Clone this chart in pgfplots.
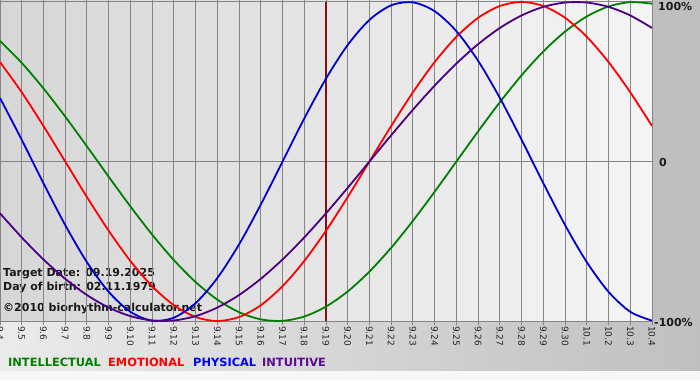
\documentclass[border=0pt]{standalone}
\usepackage{fontspec}
\setmainfont{DejaVu Sans}
\usepackage{pgfplots}
\usepackage{pgfplotstable}
\pgfplotsset{compat=1.18}
\definecolor{gridgray}{HTML}{858585}
\definecolor{targetred}{HTML}{801010}
\definecolor{cintel}{HTML}{008000}
\definecolor{cemo}{HTML}{FF0000}
\definecolor{cphys}{HTML}{0000CC}
\definecolor{cintu}{HTML}{4B0082}
\definecolor{lintel}{HTML}{008000}
\definecolor{lemo}{HTML}{FF0000}
\definecolor{lphys}{HTML}{0000FF}
\definecolor{lintu}{HTML}{5A0A96}

\pgfplotstableread{
d intel emo phys intu
0 0.7557 0.6235 0.3984 -0.3247
1 0.6182 0.4339 0.1362 -0.4759
2 0.4582 0.2225 -0.1362 -0.6142
3 0.2817 0 -0.3984 -0.7357
4 0.0951 -0.2225 -0.6311 -0.8372
5 -0.0951 -0.4339 -0.8170 -0.9158
6 -0.2817 -0.6235 -0.9423 -0.9694
7 -0.4582 -0.7818 -0.9977 -0.9966
8 -0.6182 -0.9010 -0.9791 -0.9966
9 -0.7557 -0.9749 -0.8879 -0.9694
10 -0.8660 -1 -0.7308 -0.9158
11 -0.9450 -0.9749 -0.5196 -0.8372
12 -0.9898 -0.9010 -0.2698 -0.7357
13 -0.9989 -0.7818 0 -0.6142
14 -0.9718 -0.6235 0.2698 -0.4759
15 -0.9096 -0.4339 0.5196 -0.3247
16 -0.8146 -0.2225 0.7308 -0.1646
17 -0.6901 0 0.8879 0
18 -0.5406 0.2225 0.9791 0.1646
19 -0.3717 0.4339 0.9977 0.3247
20 -0.1893 0.6235 0.9423 0.4759
21 0 0.7818 0.8170 0.6142
22 0.1893 0.9010 0.6311 0.7357
23 0.3717 0.9749 0.3984 0.8372
24 0.5406 1 0.1362 0.9158
25 0.6901 0.9749 -0.1362 0.9694
26 0.8146 0.9010 -0.3984 0.9966
27 0.9096 0.7818 -0.6311 0.9966
28 0.9718 0.6235 -0.8170 0.9694
29 0.9989 0.4339 -0.9423 0.9158
30 0.9898 0.2225 -0.9977 0.8372
}\bio

\begin{document}
\begin{tikzpicture}[x=1pt,y=1pt]
\useasboundingbox (0,0) rectangle (700,380);
% backgrounds
\fill[white!97!black] (0,0) rectangle (700,380);
\shade[left color=white!92!black, middle color=white!88!black, right color=white!75!black] (0,10) rectangle (700,59);
\fill[white!75!black] (652,59) rectangle (700,380);
\shade[left color=white!84!black, middle color=white!90!black, right color=white!96!black] (0,59) rectangle (652,380);
% texts
\node[anchor=base west, inner sep=0pt, font=\bfseries\fontsize{11}{13}\selectfont, text=black!90] at (3,104) {Target Date: 09.19.2025};
\node[anchor=base west, inner sep=0pt, font=\bfseries\fontsize{11}{13}\selectfont, text=black!90] at (3,90) {Day of birth: 02.11.1979};
\node[anchor=base west, inner sep=0pt, font=\bfseries\fontsize{11}{13}\selectfont, text=black!90] at (3,69) {\char"00A9 2010 biorhythm-calculator.net};
\node[anchor=base west, inner sep=0pt, font=\bfseries\fontsize{11.4}{13}\selectfont, text=lintel] at (8,14) {INTELLECTUAL};
\node[anchor=base west, inner sep=0pt, font=\bfseries\fontsize{11.4}{13}\selectfont, text=lemo] at (108,14) {EMOTIONAL};
\node[anchor=base west, inner sep=0pt, font=\bfseries\fontsize{11.4}{13}\selectfont, text=lphys] at (193,14) {PHYSICAL};
\node[anchor=base west, inner sep=0pt, font=\bfseries\fontsize{11.4}{13}\selectfont, text=lintu] at (262,14) {INTUITIVE};
\begin{axis}[
  at={(0pt,59pt)}, anchor=south west,
  scale only axis, width=652pt, height=319pt,
  xmin=0, xmax=30, ymin=-1, ymax=1,
  axis line style={draw=none},
  xtick={0,...,30},
  xticklabels={9.4,9.5,9.6,9.7,9.8,9.9,9.10,9.11,9.12,9.13,9.14,9.15,9.16,9.17,9.18,9.19,9.20,9.21,9.22,9.23,9.24,9.25,9.26,9.27,9.28,9.29,9.30,10.1,10.2,10.3,10.4},
  xticklabel style={rotate=-90, anchor=west, inner sep=1pt, font=\fontsize{9}{10}\selectfont, text=black!85},
  xtick align=outside, major tick length=4pt,
  x tick style={gridgray, line width=1pt},
  ytick={-1,0,1}, yticklabels={},
  y tick style={draw=none},
  xmajorgrids, ymajorgrids,
  grid style={gridgray, line width=1pt},
  clip=true,
]
\addplot[targetred, line width=2pt] coordinates {(15,-1) (15,1)};
\addplot[cintel, line width=1.8pt, smooth] table[x=d, y=intel] {\bio};
\addplot[cemo, line width=1.8pt, smooth] table[x=d, y=emo] {\bio};
\addplot[cphys, line width=1.8pt, smooth] table[x=d, y=phys] {\bio};
\addplot[cintu, line width=1.8pt, smooth] table[x=d, y=intu] {\bio};
\end{axis}
\node[anchor=west, inner sep=0pt, font=\bfseries\fontsize{11}{13}\selectfont, text=black!90] at (658,373) {100\%};
\node[anchor=west, inner sep=0pt, font=\bfseries\fontsize{11}{13}\selectfont, text=black!90] at (659,218) {0};
\node[anchor=west, inner sep=0pt, font=\bfseries\fontsize{11}{13}\selectfont, text=black!90] at (654,58) {-100\%};
\end{tikzpicture}
\end{document}
